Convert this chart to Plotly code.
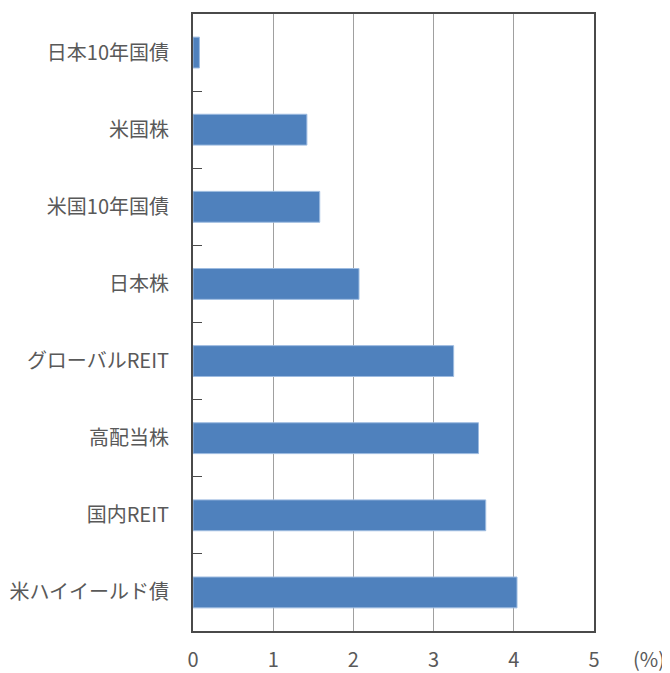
import plotly.graph_objects as go

categories = ["日本10年国債", "米国株", "米国10年国債", "日本株",
              "グローバルREIT", "高配当株", "国内REIT", "米ハイイールド債"]
values = [0.08, 1.42, 1.58, 2.07, 3.25, 3.56, 3.65, 4.04]
x_ticks = [0, 1, 2, 3, 4, 5]
unit_label = "(%)"

FONT = "Noto Sans CJK JP"
TXT = "#595959"

fig = go.Figure(go.Bar(
    x=values, y=categories, orientation="h",
    marker=dict(color="#4f81bd", line=dict(color="#9dbbe0", width=1)),
    width=0.4,
))

fig.update_layout(
    width=662, height=665,
    margin=dict(l=185, r=76, t=6, b=42, autoexpand=False),
    paper_bgcolor="white", plot_bgcolor="white",
    showlegend=False,
    font=dict(family=FONT, size=20, color=TXT),
)

fig.update_xaxes(
    range=[0, 5], tickvals=x_ticks, ticktext=[str(v) for v in x_ticks],
    showgrid=True, gridcolor="#a0a0a0", gridwidth=1,
    zeroline=False, automargin=False,
    showline=True, mirror=True, linecolor="#4a4a4a", linewidth=2,
    ticks="", ticklabelstandoff=10,
    tickfont=dict(family=FONT, size=20, color=TXT),
)

fig.update_yaxes(
    type="category", categoryorder="array", categoryarray=categories,
    autorange="reversed", automargin=False,
    showgrid=False, zeroline=False,
    showline=True, mirror=True, linecolor="#4a4a4a", linewidth=2,
    ticks="inside", tickson="boundaries", ticklen=9, tickcolor="#4a4a4a", tickwidth=1,
    ticklabelstandoff=18,
    tickfont=dict(family=FONT, size=20, color=TXT),
)

fig.add_annotation(
    text=unit_label, xref="paper", yref="paper",
    x=1.137, y=-0.044, xanchor="center", yanchor="middle",
    showarrow=False, font=dict(family=FONT, size=20, color=TXT),
)

fig.write_html("out.html")
